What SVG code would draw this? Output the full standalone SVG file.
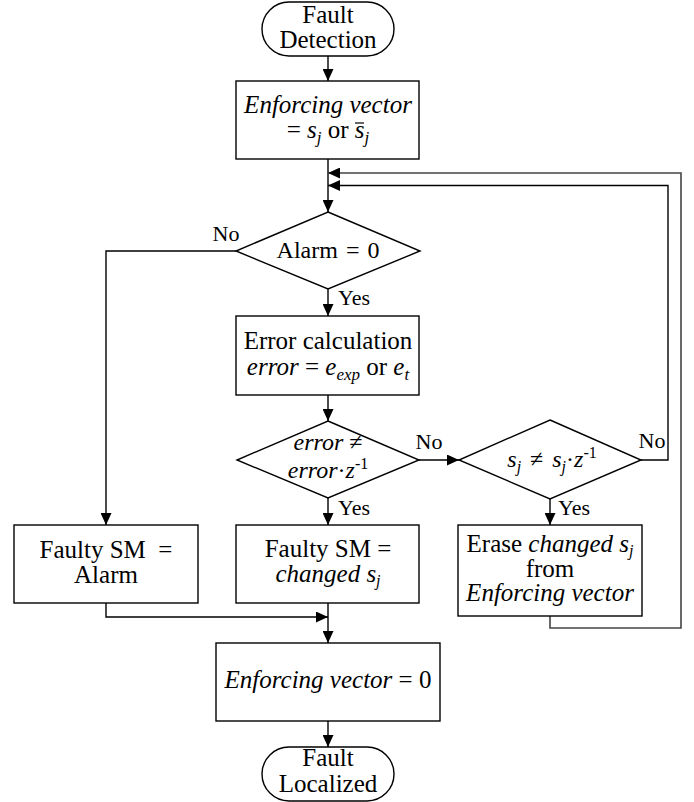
<svg xmlns="http://www.w3.org/2000/svg" width="694" height="802" viewBox="0 0 694 802" font-family="'Liberation Serif', 'DejaVu Serif', serif">
<style>
text{font-family:'Liberation Serif','DejaVu Serif',serif;fill:#000;text-anchor:middle}
.b{font-size:25px}
.d{font-size:24px}
.l{font-size:22px}
.i{font-style:italic}
.sh{fill:#fff;stroke:#000;stroke-width:1.4}
.c{fill:none;stroke:#000;stroke-width:1.4}
.g{fill:none;stroke:#444;stroke-width:1.6}
</style>
<defs>
<marker id="a" markerUnits="userSpaceOnUse" markerWidth="12" markerHeight="11" refX="12" refY="5.5" orient="auto"><path d="M0,0 L12,5.5 L0,11 z" fill="#000"/></marker>
</defs>
<g id="connectors">
<path class="c" d="M328,56 V81" marker-end="url(#a)"/>
<path class="c" d="M328,159 V212" marker-end="url(#a)"/>
<path class="c" d="M236,251 H106 V525" marker-end="url(#a)"/>
<path class="c" d="M328,289 V316" marker-end="url(#a)"/>
<path class="c" d="M328,395 V421" marker-end="url(#a)"/>
<path class="c" d="M328,498 V525" marker-end="url(#a)"/>
<path class="c" d="M419,460 H459" marker-end="url(#a)"/>
<path class="c" d="M550,499 V525" marker-end="url(#a)"/>
<path class="c" d="M641,460 H668 V185.5 H328" marker-end="url(#a)"/>
<path class="g" d="M550,616 V628 H681 V173 H328" marker-end="url(#a)"/>
<path class="c" d="M106,603 V617 H328" marker-end="url(#a)"/>
<path class="c" d="M328,603 V643" marker-end="url(#a)"/>
<path class="c" d="M328,721 V747" marker-end="url(#a)"/>
</g>
<g id="fault-detection">
<rect class="sh" x="262" y="2" width="132" height="54" rx="27"/>
<text class="b" x="328" y="23">Fault</text>
<text class="b" x="328" y="48">Detection</text>
</g>
<g id="enforcing-init">
<rect class="sh" x="236" y="81" width="183" height="78"/>
<text class="b i" x="328" y="113">Enforcing vector</text>
<text class="b" x="328" y="138">= <tspan class="i">s</tspan><tspan class="i" font-size="17" dy="5">j</tspan><tspan dy="-5"> or </tspan><tspan class="i">s</tspan><tspan class="i" font-size="17" dy="5">j</tspan></text>
<path d="M355,123 H364" stroke="#000" stroke-width="1.2"/>
</g>
<g id="alarm-decision">
<path class="sh" d="M328,212 L420,251 L328,289 L236,251 Z"/>
<text class="d" x="328" y="258" word-spacing="2">Alarm = 0</text>
<text class="l" x="226" y="241">No</text>
<text class="l" x="338" y="305" style="text-anchor:start">Yes</text>
</g>
<g id="error-calc">
<rect class="sh" x="236" y="316" width="183" height="79"/>
<text class="b" x="328" y="349">Error calculation</text>
<text class="b" x="328" y="375"><tspan class="i">error</tspan> = <tspan class="i">e</tspan><tspan class="i" font-size="17" dy="5">exp</tspan><tspan dy="-5"> or </tspan><tspan class="i">e</tspan><tspan class="i" font-size="17" dy="5">t</tspan></text>
</g>
<g id="error-decision">
<path class="sh" d="M328,421 L419,460 L328,498 L237,460 Z"/>
<text class="d" x="328" y="450"><tspan class="i">error</tspan> ≠</text>
<text class="d" x="328" y="478"><tspan class="i">error</tspan>·<tspan class="i">z</tspan><tspan font-size="16" dy="-9">-1</tspan></text>
<text class="l" x="429" y="449">No</text>
<text class="l" x="338" y="515" style="text-anchor:start">Yes</text>
</g>
<g id="sj-decision">
<path class="sh" d="M550,420 L641,460 L550,499 L459,460 Z"/>
<text class="d" x="552" y="467" word-spacing="3"><tspan class="i">s</tspan><tspan class="i" font-size="16" dy="5">j</tspan><tspan dy="-5"> ≠ </tspan><tspan class="i">s</tspan><tspan class="i" font-size="16" dy="5">j</tspan><tspan dy="-5">·</tspan><tspan class="i">z</tspan><tspan font-size="16" dy="-9">-1</tspan></text>
<text class="l" x="652" y="448">No</text>
<text class="l" x="558" y="515" style="text-anchor:start">Yes</text>
</g>
<g id="faulty-alarm">
<rect class="sh" x="14" y="525" width="184" height="78"/>
<text class="b" x="106" y="558" xml:space="preserve">Faulty SM  =</text>
<text class="b" x="106" y="583">Alarm</text>
</g>
<g id="faulty-changed">
<rect class="sh" x="236" y="525" width="183" height="78"/>
<text class="b" x="328" y="557">Faulty SM =</text>
<text class="b" x="328" y="582"><tspan class="i">changed s</tspan><tspan class="i" font-size="16" dy="4">j</tspan></text>
</g>
<g id="erase">
<rect class="sh" x="458" y="525" width="184" height="91"/>
<text class="b" x="550" y="552">Erase <tspan class="i">changed s</tspan><tspan class="i" font-size="16" dy="4">j</tspan></text>
<text class="b" x="550" y="577">from</text>
<text class="b i" x="550" y="601">Enforcing vector</text>
</g>
<g id="enforcing-zero">
<rect class="sh" x="216" y="643" width="224" height="78"/>
<text class="b" x="328" y="688"><tspan class="i">Enforcing vector</tspan> = 0</text>
</g>
<g id="fault-localized">
<rect class="sh" x="262" y="747" width="132" height="54" rx="27"/>
<text class="b" x="328" y="766">Fault</text>
<text class="b" x="328" y="792">Localized</text>
</g>
</svg>
